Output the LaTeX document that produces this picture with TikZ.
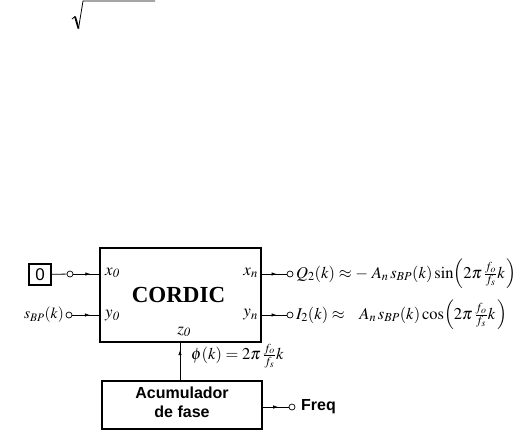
\documentclass[tikz,border=0pt]{standalone}
\usepackage{mathptmx}
\usepackage{fontspec}
\setmainfont{Liberation Serif}
\setsansfont{Liberation Sans}
\usetikzlibrary{arrows.meta,decorations.markings}
\tikzset{
  blockbox/.style={draw, line width=1.1pt, inner sep=0pt},
  port/.style={draw, circle, line width=0.7pt, inner sep=0pt, minimum size=6pt, fill=white},
  wire/.style={line width=0.8pt},
  midarrow/.style={decoration={markings, mark=at position #1 with {\arrow{Latex[length=5pt,width=3.5pt]}}}, postaction={decorate}},
  lbl/.style={font=\fontsize{17}{20}\selectfont, inner sep=0pt},
  eqlbl/.style={font=\fontsize{16.5}{20}\selectfont, inner sep=0pt},
  sanslbl/.style={font=\sffamily\bfseries\fontsize{16}{19}\selectfont, inner sep=0pt, align=center},
}
\begin{document}
\begin{tikzpicture}[x=1pt,y=-1pt]
\useasboundingbox (0,0) rectangle (526,445);
% radical sign at top
\draw[line width=0.8pt] (72,19) -- (75,16.5);
\draw[line width=1.8pt] (75,16.5) -- (78.5,28.5);
\draw[line width=0.8pt] (78.5,28.5) -- (83,1) -- (155,1);
% blocks
\node[blockbox, minimum width=161pt, minimum height=94pt] (cordic) at (180.5,295) {};
\node[font=\bfseries\fontsize{23}{26}\selectfont, inner sep=0pt] (cordictxt) at (178.5,295) {CORDIC};
\node[blockbox, minimum width=22pt, minimum height=21pt, font=\sffamily\fontsize{17}{20}\selectfont] (zero) at (40,274.5) {0};
\node[blockbox, minimum width=160pt, minimum height=48pt] (acc) at (182,405) {};
\node[sanslbl] (acctxt) at (182,402.5) {Acumulador\\de fase};
% ports
\node[port] (c1) at (70,274) {};
\node[port] (c2) at (69,315) {};
\node[port] (c3) at (290,274) {};
\node[port] (c4) at (290,315) {};
\node[port] (c5) at (292,407) {};
% inner labels
\node[lbl, anchor=west] (x0) at (105,273) {$x_{\mathit 0}$};
\node[lbl, anchor=west] (y0) at (105,316) {$y_{\mathit 0}$};
\node[lbl] (z0) at (184,332) {$z_{\mathit 0}$};
\node[lbl, anchor=east] (xn) at (258,273) {$x_n$};
\node[lbl, anchor=east] (yn) at (258,315) {$y_n$};
% outer labels
\node[eqlbl, font=\fontsize{15.5}{19}\selectfont, anchor=east] (sbp) at (64,315) {$s_{BP}(k)$};
\node[eqlbl, anchor=west] (qout) at (296,274) {$Q_2(k)\approx -\;A_n\, s_{BP}(k)\sin\Bigl(2\pi\,\frac{f_o}{f_s}k\,\Bigr)$};
\node[eqlbl, anchor=west] (iout) at (296,315) {$I_2(k)\approx \;\;\;A_n\, s_{BP}(k)\cos\Bigl(2\pi\,\frac{f_o}{f_s}k\,\Bigr)$};
\node[eqlbl, anchor=west] (phi) at (191,356) {$\phi(k) = 2\pi\,\frac{f_o}{f_s}k$};
\node[sanslbl, anchor=west] (freq) at (301,407) {Freq};
% wires
\draw[wire] (zero) -- (c1);
\draw[wire, midarrow=0.65] (c1) -- (cordic.west |- c1);
\draw[wire, midarrow=0.65] (c2) -- (cordic.west |- c2);
\draw[wire, midarrow=0.6] (cordic.east |- c3) -- (c3);
\draw[wire, midarrow=0.6] (cordic.east |- c4) -- (c4);
\draw[wire, midarrow=0.8] (acc.north -| 180,0) -- (cordic.south -| 180,0);
\draw[wire, midarrow=0.6] (acc.east |- c5) -- (c5);
\end{tikzpicture}
\end{document}
